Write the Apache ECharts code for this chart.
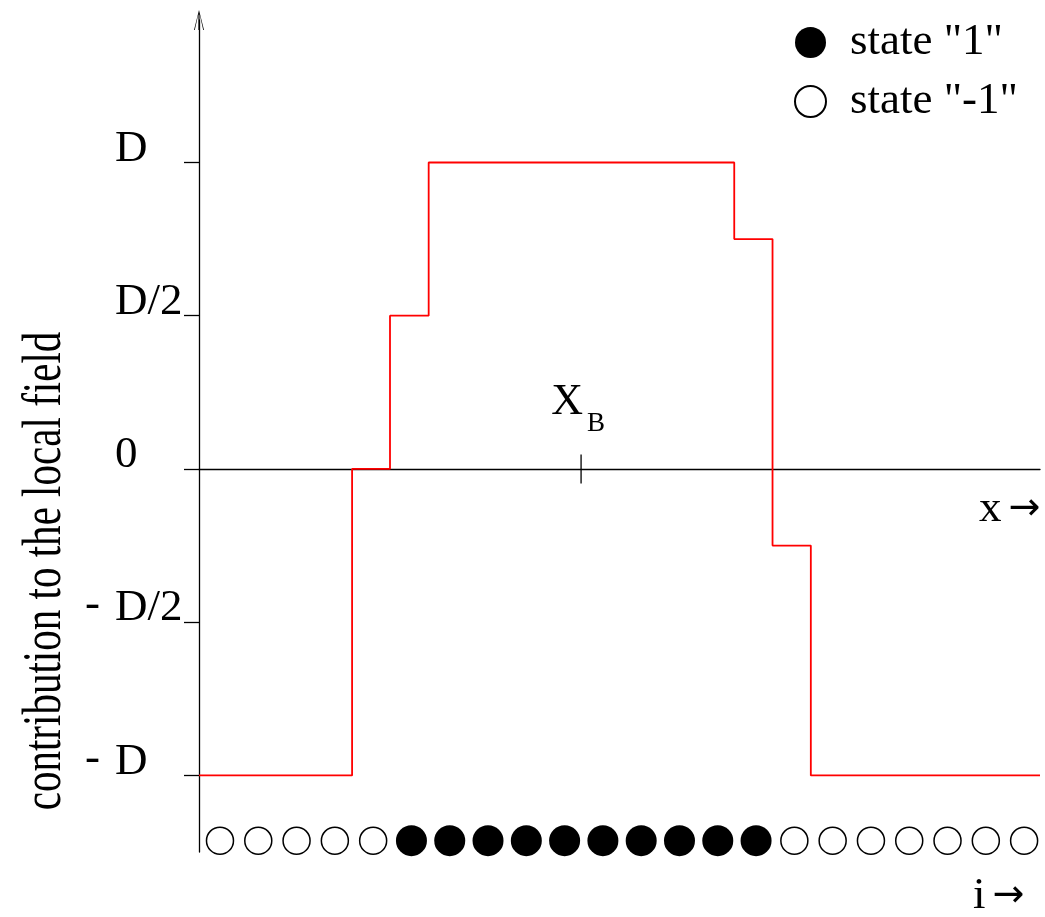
<!DOCTYPE html>
<html>
<head>
<meta charset="utf-8">
<script src="https://cdn.jsdelivr.net/npm/echarts@6/dist/echarts.min.js"></script>
<style>
	html, body { margin: 0; padding: 0; background: #fff; }
	#main { width: 1045px; height: 917px; }
</style>
</head>
<body>
<div id="main"></div>
<script>
// site index of each circle in the row under the plot
var sites = [0, 1, 2, 3, 4, 5, 6, 7, 8, 9, 10, 11, 12, 13, 14, 15, 16, 17, 18, 19, 20, 21];
// spin state of each site (1 = filled, -1 = open)
var states = [-1, -1, -1, -1, -1, 1, 1, 1, 1, 1, 1, 1, 1, 1, 1, -1, -1, -1, -1, -1, -1, -1];
var rowLevel = -1.213;

// red staircase: x where each level starts, and the level (in units of D)
var fieldX = [-0.548, 3.45, 4.44, 5.45, 13.43, 14.43, 15.43, 21.415];
var fieldY = [-1, 0, 0.5, 1, 0.75, -0.25, -1, -1];

var xB = 9.43;

var yTickValues = [-1, -0.5, 0, 0.5, 1];
var yTickLabels = ['D', 'D/2', '0', 'D/2', 'D'];

var serif = "'Liberation Serif', 'Times New Roman', serif";
var arrowFont = "'DejaVu Sans', sans-serif";

var filled = [], open = [];
for (var i = 0; i < sites.length; i++) {
	if (states[i] > 0) {
		filled.push([sites[i], rowLevel]);
	} else {
		open.push([sites[i], rowLevel]);
	}
}
var fieldData = [];
for (var j = 0; j < fieldX.length; j++) {
	fieldData.push([fieldX[j], fieldY[j]]);
}

var chart = echarts.init(document.getElementById('main'));

// "x ->" / "i ->" labels
function arrowLabel(letter, left, top) {
	return {
		type: 'text',
		left: left,
		top: top,
		style: {
			text: '{v|' + letter + '}{a|\u2192}',
			rich: {
				v: { fontFamily: serif, fontSize: 45, lineHeight: 45, fill: '#000' },
				a: { fontFamily: arrowFont, fontSize: 38, lineHeight: 45, fill: '#000', padding: [0, 0, 0, 7] }
			}
		}
	};
}

var option = {
	animation: false,
	backgroundColor: '#fff',
	grid: { left: 199, right: 5, top: 20, bottom: 65 },
	legend: {
		orient: 'vertical',
		left: 789,
		top: 15,
		icon: 'circle',
		itemWidth: 31,
		itemHeight: 31,
		itemGap: 14,
		selectedMode: false,
		data: ['state "1"', 'state "-1"'],
		textStyle: {
			fontFamily: serif,
			fontSize: 45,
			lineHeight: 31,
			color: '#000',
			padding: [4, 0, 0, 19]
		}
	},
	xAxis: {
		type: 'value',
		min: -0.548,
		max: 21.415,
		splitLine: { show: false },
		axisTick: { show: false },
		axisLabel: { show: false },
		axisLine: { onZero: true, lineStyle: { color: '#000', width: 1.3 } }
	},
	yAxis: {
		type: 'value',
		min: -1.25,
		max: 1.465,
		splitLine: { show: false },
		axisLine: {
			onZero: false,
			symbol: ['none', 'path://M5,0 L10,20 L9.2,20 L5.6,4 L5.6,20 L4.4,20 L4.4,4 L0.8,20 L0,20 Z'],
			symbolSize: [11, 20],
			lineStyle: { color: '#000', width: 1.3 }
		},
		axisTick: {
			customValues: yTickValues,
			length: 15,
			lineStyle: { color: '#000', width: 1.3 }
		},
		axisLabel: {
			customValues: yTickValues,
			margin: 114,
			align: 'left',
			verticalAlign: 'bottom',
			lineHeight: 27,
			formatter: function (v) {
				var k = yTickValues.indexOf(v);
				var txt = k >= 0 ? yTickLabels[k] : '';
				if (v < 0) {
					return '{m|-}{t|' + txt + '}';
				}
				return '{p|}{t|' + txt + '}';
			},
			rich: {
				m: { width: 30, fontFamily: serif, fontSize: 45, lineHeight: 27, color: '#000', padding: [0, 0, 6, 0] },
				p: { width: 30, fontFamily: serif, fontSize: 45, lineHeight: 27 },
				t: { fontFamily: serif, fontSize: 45, lineHeight: 27, color: '#000' }
			}
		}
	},
	graphic: [
		{
			// y axis title, drawn a bit narrow along its length like the original
			type: 'text',
			x: 45.5,
			y: 571,
			rotation: Math.PI / 2,
			scaleX: 0.76,
			style: {
				text: 'contribution to the local field',
				font: '54px ' + serif,
				fill: '#000',
				align: 'center',
				verticalAlign: 'middle'
			}
		},
		arrowLabel('x', 979, 487),
		arrowLabel('i', 973, 874)
	],
	series: [
		{
			name: 'field',
			type: 'line',
			step: 'end',
			data: fieldData,
			symbol: 'none',
			lineStyle: { color: '#ff0000', width: 1.8 },
			z: 3
		},
		{
			name: 'xB',
			type: 'scatter',
			data: [[xB, 0]],
			symbol: 'rect',
			symbolSize: [1.3, 29],
			itemStyle: { color: '#000', opacity: 1 },
			label: {
				show: true,
				position: 'top',
				distance: 17,
				offset: [-3, 0],
				formatter: '{x|X}{b|B}',
				rich: {
					x: { fontFamily: serif, fontSize: 44, lineHeight: 57, verticalAlign: 'top', color: '#000' },
					b: { fontFamily: serif, fontSize: 27, lineHeight: 27, verticalAlign: 'bottom', color: '#000', padding: [0, 0, 0, 4] }
				}
			}
		},
		{
			name: 'state "1"',
			type: 'scatter',
			data: filled,
			symbol: 'circle',
			symbolSize: 31,
			itemStyle: { color: '#000', opacity: 1 }
		},
		{
			name: 'state "-1"',
			type: 'scatter',
			data: open,
			symbol: 'circle',
			symbolSize: 27,
			itemStyle: { color: '#fff', borderColor: '#000', borderWidth: 1.5, opacity: 1 }
		}
	]
};

chart.setOption(option);
</script>
</body>
</html>
